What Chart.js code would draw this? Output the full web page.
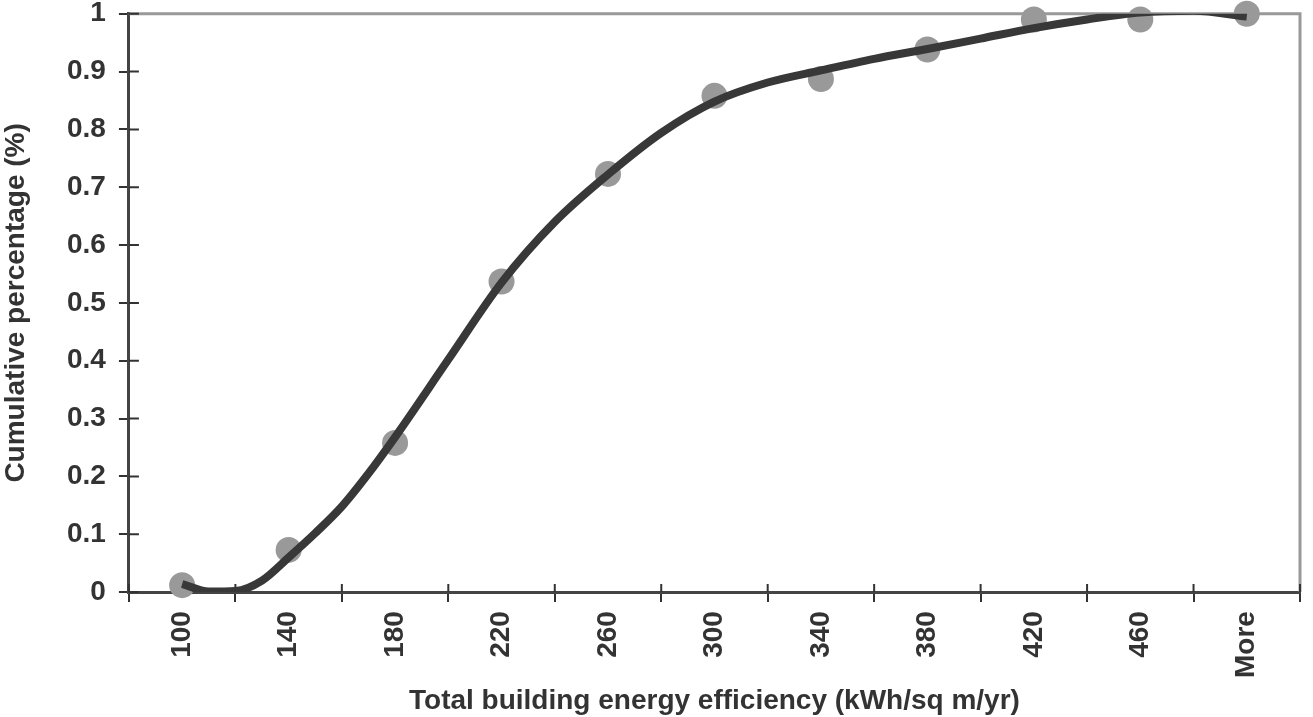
<!DOCTYPE html>
<html>
<head>
<meta charset="utf-8">
<script src="https://cdn.jsdelivr.net/npm/chart.js@4.4.1/dist/chart.umd.min.js"></script>
<style>
    html, body { margin: 0; padding: 0; background: #fff; overflow: hidden; }
    #wrap { width: 1313px; height: 717px; }
    #energy_chart { display: block; }
</style>
</head>
<body>
<div id="wrap"><canvas id="energy_chart"></canvas></div>
<script>
// x categories (energy bins)
const categories = ['100', '140', '180', '220', '260', '300', '340', '380', '420', '460', 'More'];
// cumulative percentage per bin (grey dots)
const cumulative = [0.012, 0.073, 0.258, 0.537, 0.723, 0.858, 0.887, 0.938, 0.99, 0.99, 1.0];
// trend curve, x in category index units
const trendX = [0, 0.25, 0.5, 0.75, 1, 1.25, 1.5, 1.75, 2, 2.5, 3, 3.5, 4, 4.5, 5, 5.5, 6, 6.5, 7, 7.5, 8, 8.5, 9, 9.5, 10];
const trendY = [0.014, 0.001, 0.002, 0.02, 0.06, 0.102, 0.148, 0.205, 0.268, 0.402, 0.535, 0.64, 0.722, 0.794, 0.848, 0.881, 0.902, 0.922, 0.939, 0.957, 0.975, 0.99, 1.002, 1.005, 0.995];
// y ticks
const yTicks = [0, 0.1, 0.2, 0.3, 0.4, 0.5, 0.6, 0.7, 0.8, 0.9, 1];

// tiny lineHeight keeps Chart.js from reserving extra room around the end labels
const labelFont = { family: 'Liberation Sans, Arial, sans-serif', size: 28, weight: 'bold', lineHeight: 0.05 };
const titleFont = { family: 'Liberation Sans, Arial, sans-serif', size: 28, weight: 'bold', lineHeight: 1 };

// grey frame on top/right + inner half of the tick marks
const framePlugin = {
    id: 'frame',
    beforeDatasetsDraw(chart) {
        const { ctx, chartArea: a, scales } = chart;
        ctx.save();
        ctx.strokeStyle = '#999';
        ctx.lineWidth = 3;
        ctx.beginPath();
        ctx.moveTo(a.left, a.top);
        ctx.lineTo(a.right, a.top);
        ctx.lineTo(a.right, a.bottom);
        ctx.stroke();
        ctx.strokeStyle = '#333';
        ctx.lineWidth = 2;
        ctx.beginPath();
        yTicks.forEach(v => {
            const y = scales.y.getPixelForValue(v);
            ctx.moveTo(a.left, y);
            ctx.lineTo(a.left + 10, y);
        });
        for (let i = 0; i <= categories.length; i++) {
            const x = scales.xv.getPixelForValue(i - 0.5);
            ctx.moveTo(x, a.bottom);
            ctx.lineTo(x, a.bottom - 8);
        }
        ctx.stroke();
        ctx.restore();
    }
};

function fnEnergyChart() {
    const ctx = document.getElementById('energy_chart').getContext('2d');
    const energyChart = new Chart(ctx, {
        data: {
            labels: categories,
            datasets: [
                {
                    type: 'line',
                    data: trendX.map((x, i) => ({ x: x, y: trendY[i] })),
                    xAxisID: 'xv',
                    borderColor: '#383838',
                    borderWidth: 8,
                    pointRadius: 0,
                    cubicInterpolationMode: 'monotone',
                    clip: 0,
                    order: 1
                },
                {
                    type: 'scatter',
                    data: cumulative.map((v, i) => ({ x: i, y: v })),
                    xAxisID: 'xv',
                    backgroundColor: '#999',
                    borderWidth: 0,
                    pointRadius: 13,
                    clip: false,
                    order: 2
                }
            ]
        },
        options: {
            responsive: true,
            maintainAspectRatio: false,
            animation: false,
            layout: { padding: { top: 0, right: 7, left: 0, bottom: 0 } },
            scales: {
                x: {
                    type: 'category',
                    labels: categories,
                    offset: true,
                    afterFit: scale => { scale.paddingLeft = 0; scale.paddingRight = 0; },
                    grid: {
                        offset: true,
                        drawOnChartArea: false,
                        color: '#333',
                        lineWidth: 2,
                        tickLength: 10
                    },
                    border: { color: '#444', width: 3 },
                    ticks: {
                        color: '#333',
                        font: labelFont,
                        minRotation: 90,
                        maxRotation: 90,
                        padding: 9
                    },
                    title: {
                        display: true,
                        text: 'Total building energy efficiency (kWh/sq m/yr)',
                        color: '#333',
                        font: titleFont,
                        padding: { top: 0, bottom: 2 }
                    }
                },
                xv: {
                    type: 'linear',
                    display: false,
                    min: -0.5,
                    max: categories.length - 0.5
                },
                y: {
                    min: 0,
                    max: 1,
                    afterBuildTicks: scale => { scale.ticks = yTicks.map(v => ({ value: v })); },
                    grid: {
                        drawOnChartArea: false,
                        color: '#333',
                        lineWidth: 2,
                        tickLength: 10
                    },
                    border: { color: '#444', width: 3 },
                    ticks: {
                        color: '#333',
                        font: labelFont,
                        padding: 13,
                        callback: v => String(Math.round(v * 10) / 10)
                    },
                    title: {
                        display: true,
                        text: 'Cumulative percentage (%)',
                        color: '#333',
                        font: titleFont,
                        padding: { top: 2, bottom: 24 }
                    }
                }
            },
            plugins: {
                legend: { display: false },
                tooltip: { enabled: false }
            }
        },
        plugins: [framePlugin]
    });
}

fnEnergyChart();
</script>
</body>
</html>
